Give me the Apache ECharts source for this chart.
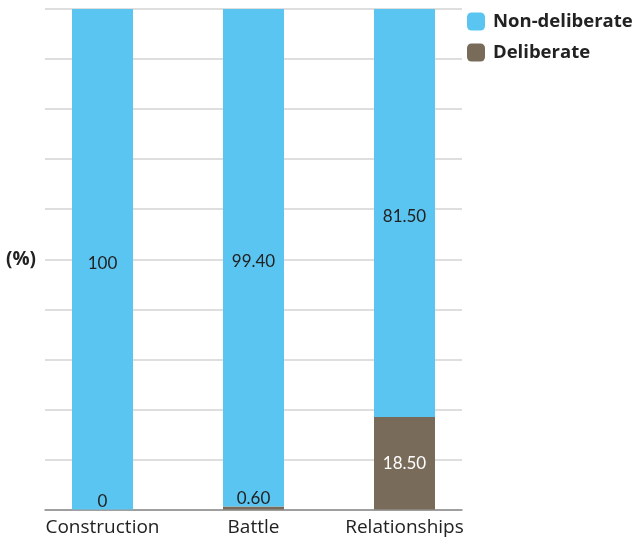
<!DOCTYPE html>
<html>
<head>
<meta charset="utf-8">
<script src="https://cdn.jsdelivr.net/npm/echarts@6/dist/echarts.min.js"></script>
<style>html,body{margin:0;padding:0;background:#fff;}#c{width:635px;height:541px;}</style>
</head>
<body>
<div id="c"></div>
<script>
var categories = ['Construction', 'Battle', 'Relationships'];
var deliberate = [0, 0.6, 18.5];
var nonDeliberate = [100, 99.4, 81.5];
var seriesNames = ['Non-deliberate', 'Deliberate'];
var yAxisName = '(%)';

var FONT = '"Open Sans", sans-serif';
var NUMFONT = 'Lato, "Open Sans", sans-serif';
function fmt(p) { var v = p.value; return Number.isInteger(v) ? String(v) : v.toFixed(2); }

var chart = echarts.init(document.getElementById('c'), null, { renderer: 'canvas' });
var delibData = deliberate.map(function (v) {
  var small = v < 5;
  return {
    value: v,
    label: small
      ? { position: 'top', distance: -1, color: '#222' }
      : { position: 'inside', color: '#fff' }
  };
});
chart.setOption({
  animation: false,
  textStyle: { fontFamily: FONT },
  legend: {
    orient: 'vertical', left: 462, top: 7,
    itemWidth: 18, itemHeight: 18, itemGap: 12,
    icon: 'roundRect',
    data: seriesNames,
    textStyle: { fontFamily: FONT, fontWeight: 'bold', fontSize: 18.5, lineHeight: 18, color: '#222', padding: [0, 0, 0, 3] }
  },
  grid: [
    { left: 45, right: 173, top: 9, bottom: 31.5 },
    { left: 27, right: 155, top: 9, bottom: 31.5 }
  ],
  xAxis: [
    { gridIndex: 0, type: 'value', min: 0, max: 1, axisLabel: { show: false }, axisTick: { show: false }, splitLine: { show: false },
      axisLine: { show: true, lineStyle: { color: '#8a8a8a', width: 1.5 } } },
    { gridIndex: 1, type: 'category', data: categories, axisLine: { show: false }, axisTick: { show: false },
      axisLabel: { interval: 0, hideOverlap: false, margin: 9, fontSize: 19, color: '#222', fontFamily: FONT } }
  ],
  yAxis: [
    { gridIndex: 0, type: 'value', min: 0, max: 100, interval: 10, axisLabel: { show: false }, axisLine: { show: false }, axisTick: { show: false },
      splitLine: { show: true, lineStyle: { color: '#d3d3d3', width: 1.5 } },
      name: yAxisName, nameLocation: 'middle', nameRotate: 0, nameGap: 9,
      nameTextStyle: { fontFamily: FONT, fontWeight: 'bold', fontSize: 19, color: '#222', align: 'right', padding: [4, 0, 0, 0] } },
    { gridIndex: 1, type: 'value', min: 0, max: 100, interval: 10, show: false, splitLine: { show: false } }
  ],
  series: [
    { name: 'Deliberate', type: 'bar', stack: 's', xAxisIndex: 1, yAxisIndex: 1, barWidth: 61,
      itemStyle: { color: '#786b5a' },
      label: { show: true, fontSize: 17, fontFamily: NUMFONT, formatter: fmt },
      data: delibData },
    { name: 'Non-deliberate', type: 'bar', stack: 's', xAxisIndex: 1, yAxisIndex: 1, barWidth: 61,
      itemStyle: { color: '#5bc5f2' },
      label: { show: true, position: 'inside', color: '#222', fontSize: 17, fontFamily: NUMFONT, offset: [0, 4], formatter: fmt },
      data: nonDeliberate }
  ]
});
</script>
</body>
</html>
